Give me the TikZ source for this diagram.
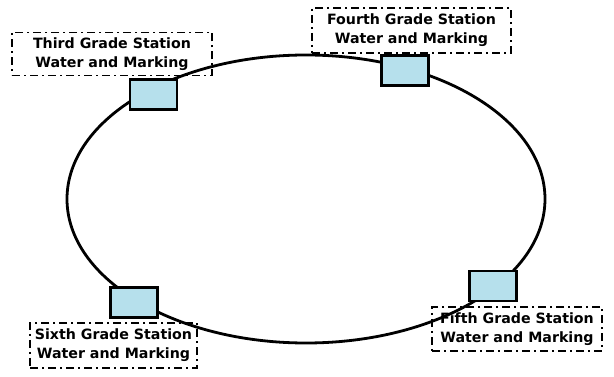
\documentclass[tikz,border=0pt]{standalone}
\usepackage{fontspec}
\setmainfont{DejaVu Sans}
\usetikzlibrary{shapes.geometric}
\definecolor{water}{HTML}{B6E0EC}
\tikzset{
  x=1pt,y=-1pt,
  labelbox/.style={draw=black, line width=1.4pt, dash pattern=on 8pt off 4pt on 2pt off 4pt,
    rectangle, align=center, inner sep=0pt, font=\fontsize{14.2}{19}\selectfont\bfseries},
  waterbox/.style={draw=black, line width=2.6pt, fill=water, rectangle, inner sep=0pt,
    minimum width=47pt, minimum height=30pt},
  track/.style={draw=black, line width=2.8pt, ellipse, inner sep=0pt}
}
\begin{document}
\begin{tikzpicture}
\useasboundingbox (0,0) rectangle (614,377);
\node[track, minimum width=478pt, minimum height=288pt] (track) at (306,199) {};
\node[waterbox] (w3) at (153.5,94.5) {};
\node[waterbox] (w4) at (405,70.5) {};
\node[waterbox] (w6) at (134,302.5) {};
\node[waterbox] (w5) at (493,286) {};
\node[labelbox, minimum width=200pt, minimum height=43pt] (l3) at (112,54) {Third Grade Station\\Water and Marking};
\node[labelbox, minimum width=199pt, minimum height=45pt] (l4) at (411.5,30.5) {Fourth Grade Station\\Water and Marking};
\node[labelbox, minimum width=167pt, minimum height=45pt] (l6) at (113.5,345.5) {Sixth Grade Station\\Water and Marking};
\node[labelbox, minimum width=170pt, minimum height=44pt] (l5) at (517,329) {Fifth Grade Station\\Water and Marking};
\end{tikzpicture}
\end{document}
